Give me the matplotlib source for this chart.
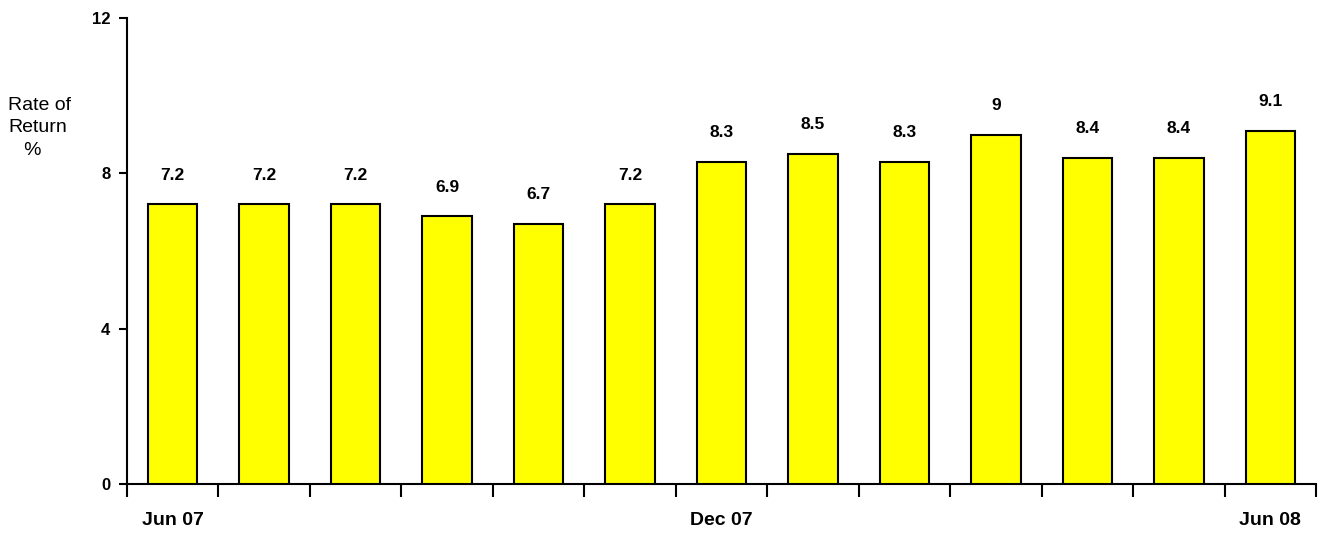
import matplotlib
matplotlib.use("Agg")
import matplotlib.pyplot as plt
from matplotlib import font_manager as fm
import numpy as np

categories = ["Jun 07", "", "", "", "", "", "Dec 07", "", "", "", "", "", "Jun 08"]
values = [7.2, 7.2, 7.2, 6.9, 6.7, 7.2, 8.3, 8.5, 8.3, 9.0, 8.4, 8.4, 9.1]
value_labels = ["7.2", "7.2", "7.2", "6.9", "6.7", "7.2", "8.3", "8.5", "8.3", "9", "8.4", "8.4", "9.1"]
yticks = [0, 4, 8, 12]

names = {f.name for f in fm.fontManager.ttflist}
narrow = "Liberation Sans Narrow" if "Liberation Sans Narrow" in names else "Liberation Sans"
regular = "Liberation Sans" if "Liberation Sans" in names else "DejaVu Sans"

fig = plt.figure(figsize=(13.28, 5.39), dpi=100)
ax = fig.add_axes([127/1328, (539-484)/539, (1316-127)/1328, (484-18)/539])

x = np.arange(len(values))
ax.bar(x, values, width=0.54, color="#FFFF00", edgecolor="black", linewidth=1.5, zorder=3)

for xi, v, lab in zip(x, values, value_labels):
    ax.annotate(lab, (xi, v), xytext=(0, 29), textcoords="offset pixels",
                ha="center", va="center", fontsize=12.5, fontweight="bold",
                family=narrow)

ax.set_xlim(-0.5, len(values) - 0.5)
ax.set_ylim(0, 12)
ax.set_yticks(yticks)
ax.set_yticklabels([str(t) for t in yticks], fontsize=12, fontweight="bold", family=narrow)

ax.set_xticks(np.arange(-0.5, len(values), 1.0), minor=True)
label_pos = [i for i, c in enumerate(categories) if c]
ax.set_xticks(label_pos)
ax.set_xticklabels([categories[i] for i in label_pos], fontsize=14, fontweight="bold", family=narrow)
ax.tick_params(axis="x", which="major", length=0, pad=20)
ax.tick_params(axis="x", which="minor", length=9, width=1.5, direction="out")
ax.tick_params(axis="y", length=6, width=1.5, direction="out", pad=6)

for s in ["top", "right"]:
    ax.spines[s].set_visible(False)
for s in ["left", "bottom"]:
    ax.spines[s].set_linewidth(1.5)

fig.text(8/1328, 1 - 128/539, "Rate of\nReturn\n   %", fontsize=14, family=regular,
         ha="left", va="center", linespacing=1.4)

fig.savefig("out.png", dpi=100)
